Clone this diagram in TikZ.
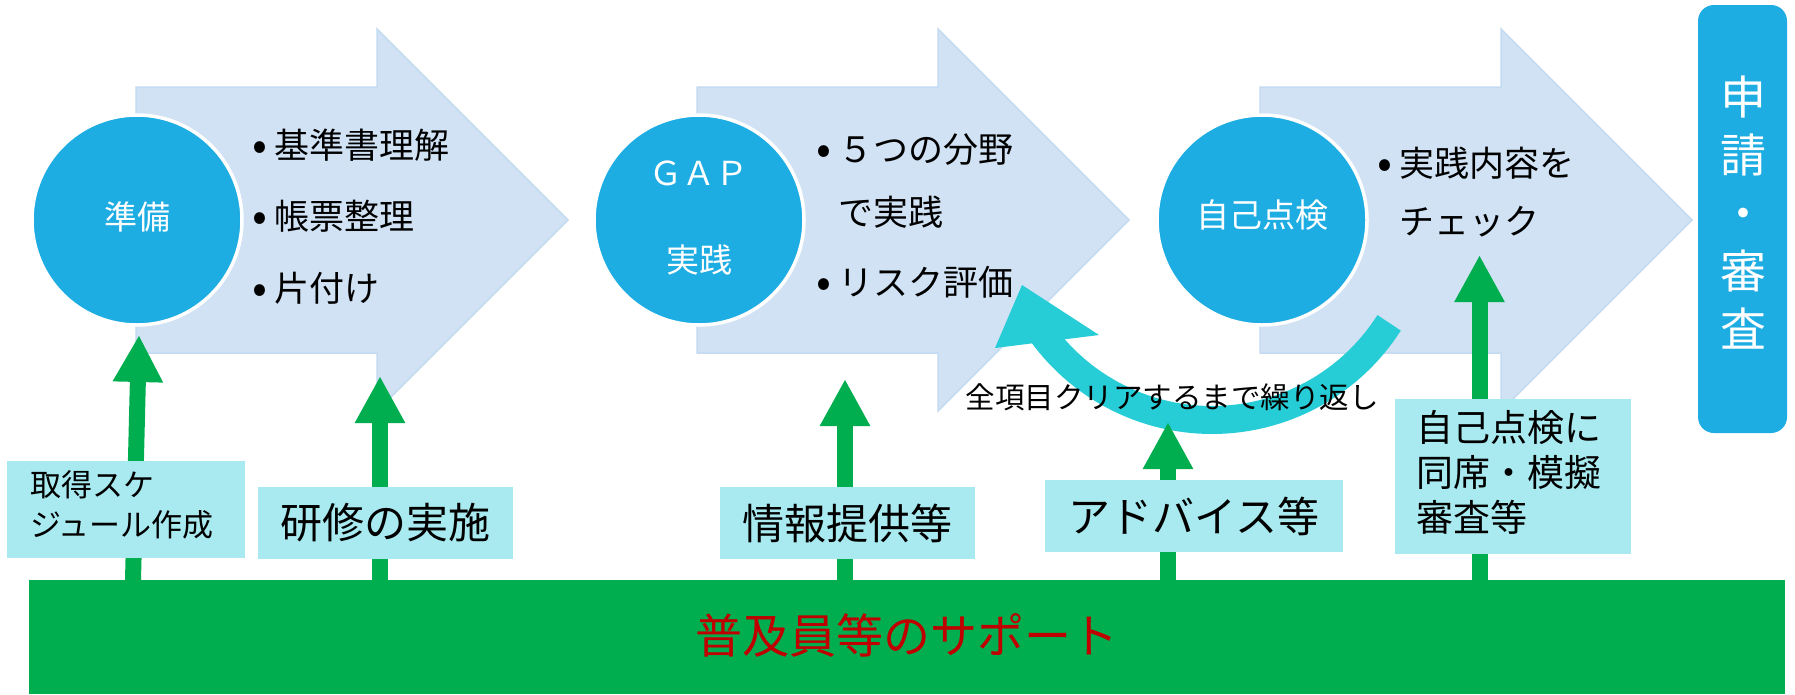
\documentclass[tikz,border=0pt]{standalone}
\usepackage{fontspec}
\setmainfont{Noto Sans CJK JP}
\usetikzlibrary{arrows.meta}
\definecolor{lblue}{HTML}{D0E2F4}
\definecolor{lblueline}{HTML}{C4DBF1}
\definecolor{cblue}{HTML}{1EADE3}
\definecolor{carc}{HTML}{26CCD6}
\definecolor{boxc}{HTML}{A8EAF0}
\definecolor{gr}{HTML}{00AE50}
\definecolor{rd}{HTML}{C00000}
\newcommand\bulmark{\llap{\makebox[29pt]{\raisebox{-2pt}{\fontsize{44}{44}\selectfont •}}}}
\begin{document}
\begin{tikzpicture}[x=1pt,y=-1pt,
  bigarrow/.style={fill=lblue, draw=lblueline, line width=1.5pt, line join=miter},
  stepcirc/.style={circle, fill=cblue, draw=white, line width=3.5pt, minimum size=210pt, inner sep=0pt},
  circtext/.style={text=white, font=\fontsize{33}{40}\selectfont, inner sep=0pt},
  bultext/.style={anchor=west, inner sep=0pt, font=\fontsize{35}{42}\selectfont},
  supbox/.style={fill=boxc, inner sep=0pt},
  boxtext/.style={inner sep=0pt, align=left},
  garrow/.style={draw=gr, line width=16pt, -{Triangle[length=47pt,width=47pt]}},
]
\fill[white] (0,0) rectangle (1795,694);
\useasboundingbox (0,0) rectangle (1795,694);

% big light-blue step arrows
\foreach \L in {136,697,1260}{
  \draw[bigarrow] (\L,87) -- ({\L+241},87) -- ({\L+241},29) -- ({\L+432},220)
    -- ({\L+241},411) -- ({\L+241},353) -- (\L,353) -- cycle;
}

% circles
\node[stepcirc] (c1) at (137,220) {};
\node[stepcirc] (c2) at (699,220) {};
\node[stepcirc] (c3) at (1262,220) {};
\node[circtext] (t1) at (137,217) {準備};
\node[circtext] (t2a) at (699,173) {ＧＡＰ};
\node[circtext] (t2b) at (699,260) {実践};
\node[circtext] (t3) at (1262,215) {自己点検};

% bullet texts
\node[bultext] (a1) at (274,145) {\bulmark 基準書理解};
\node[bultext] (a2) at (274,216) {\bulmark 帳票整理};
\node[bultext] (a3) at (274,288) {\bulmark 片付け};
\node[bultext] (b1) at (838,150) {\bulmark ５つの分野};
\node[bultext] (b2) at (838,212) {で実践};
\node[bultext] (b3) at (838,282) {\bulmark リスク評価};
\node[bultext] (d1) at (1399,163) {\bulmark 実践内容を};
\node[bultext] (d2) at (1399,222) {チェック};

% loop arrow
\draw[carc, line width=28pt] plot[domain=32.5:145, samples=60, variable=\t]
  ({1212+210*cos(\t)},{210+210*sin(\t)});
\fill[carc] (1022,285) -- (995,348) -- (1099,335) -- cycle;
\node[inner sep=0pt, font=\fontsize{29.5}{35}\selectfont] (loop) at (1172,397) {全項目クリアするまで繰り返し};

% support bar
\node[fill=gr, minimum width=1756pt, minimum height=114pt, inner sep=0pt, anchor=north west] (bar) at (29,580) {};

% green arrows
\coordinate (tipA) at (139,335);
\coordinate (baseA) at (133,580);
\coordinate (tipB) at (380,376);
\coordinate (tipC) at (845,379);
\coordinate (tipD) at (1168,422);
\coordinate (tipE) at (1479.5,255);
\draw[garrow] (baseA) -- (tipA);
\draw[garrow] (tipB |- bar.north) -- (tipB);
\draw[garrow] (tipC |- bar.north) -- (tipC);
\draw[garrow] (tipD |- bar.north) -- (tipD);
\draw[garrow] (tipE |- bar.north) -- (tipE);

% support boxes
\node[supbox, minimum width=238pt, minimum height=97pt] (bA) at (126,509.5) {};
\node[boxtext, font=\fontsize{31}{40}\selectfont] (bAt) at (122,505) {取得スケ\\ジュール作成};
\node[supbox, minimum width=255pt, minimum height=72pt, font=\fontsize{42}{50}\selectfont] (bB) at (385.5,523) {研修の実施};
\node[supbox, minimum width=255pt, minimum height=72pt, font=\fontsize{42}{50}\selectfont] (bC) at (847.5,523) {情報提供等};
\node[supbox, minimum width=298pt, minimum height=72pt, font=\fontsize{42}{50}\selectfont] (bD) at (1194,516) {アドバイス等};
\node[supbox, minimum width=236pt, minimum height=155pt] (bE) at (1513,476.5) {};
\node[boxtext, font=\fontsize{37}{45}\selectfont] (bEt) at (1509,472) {自己点検に\\同席・模擬\\審査等};

\node[text=rd, inner sep=0pt, font=\fontsize{47}{56}\selectfont] (suptext) at (907,635) {普及員等のサポート};

% application box
\node[fill=cblue, rounded corners=16pt, minimum width=89pt, minimum height=428pt, inner sep=0pt] (shin) at (1742.5,219) {};
\node[text=white, inner sep=0pt, align=center, font=\fontsize{46}{58}\selectfont] (shintext) at (1743,213) {申\\請\\・\\審\\査};
\end{tikzpicture}
\end{document}
